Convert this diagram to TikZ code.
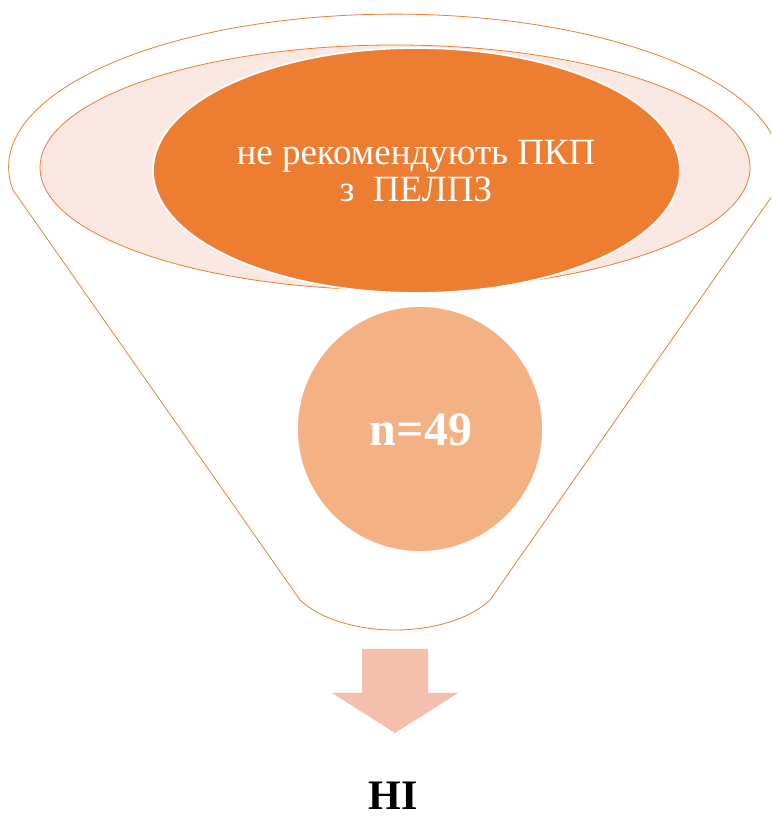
\documentclass[tikz,border=0pt]{standalone}
\usepackage{fontspec}
\setmainfont{Liberation Serif}
\definecolor{funnelline}{HTML}{ED7D31}
\definecolor{darkorange}{HTML}{ED7D31}
\definecolor{lightpink}{HTML}{FBE8E2}
\definecolor{peach}{HTML}{F4B183}
\definecolor{arrowpink}{HTML}{F4C0AD}
\tikzset{
  outline/.style={draw=funnelline, line width=0.8pt},
  ringfill/.style={draw=funnelline, line width=0.8pt, fill=lightpink},
  topfill/.style={draw=white, line width=1.8pt, fill=darkorange},
  ballfill/.style={draw=white, line width=1.8pt, fill=peach},
  whitetext/.style={text=white, align=center},
}
\begin{document}
\begin{tikzpicture}[x=1pt,y=1pt]
\useasboundingbox (0,0) rectangle (771,816);
\clip (0,0) rectangle (771,816);
% funnel outline
\draw[outline] (13,626) arc[start angle=188.6, end angle=-8.6, x radius=386pt, y radius=153pt]
  -- (490,216) arc[start angle=-30, end angle=-150, x radius=109.7pt, y radius=60pt]
  -- cycle;
% middle ring
\draw[ringfill] (395,648.5) ellipse[x radius=355pt, y radius=122.5pt];
% top ellipse
\draw[topfill] (416.5,645.5) ellipse[x radius=263.5pt, y radius=122.5pt];
\node[whitetext, font=\fontsize{37}{37}\selectfont] (top) at (416,645) {не рекомендують ПКП\\з\ \ ПЕЛПЗ};
% ball
\draw[ballfill] (420,387) circle[radius=123pt];
\node[whitetext, font=\fontsize{48}{52}\selectfont\bfseries] (n) at (421,386) {n=49};
% arrow
\fill[arrowpink] (362,167) -- (428,167) -- (428,123) -- (458,123) -- (395,83) -- (332,123) -- (362,123) -- cycle;
\coordinate (tip) at (395,83);
\node[font=\fontsize{42}{46}\selectfont\bfseries, inner sep=0pt] (res) at (393,20) {НІ};
\end{tikzpicture}
\end{document}
